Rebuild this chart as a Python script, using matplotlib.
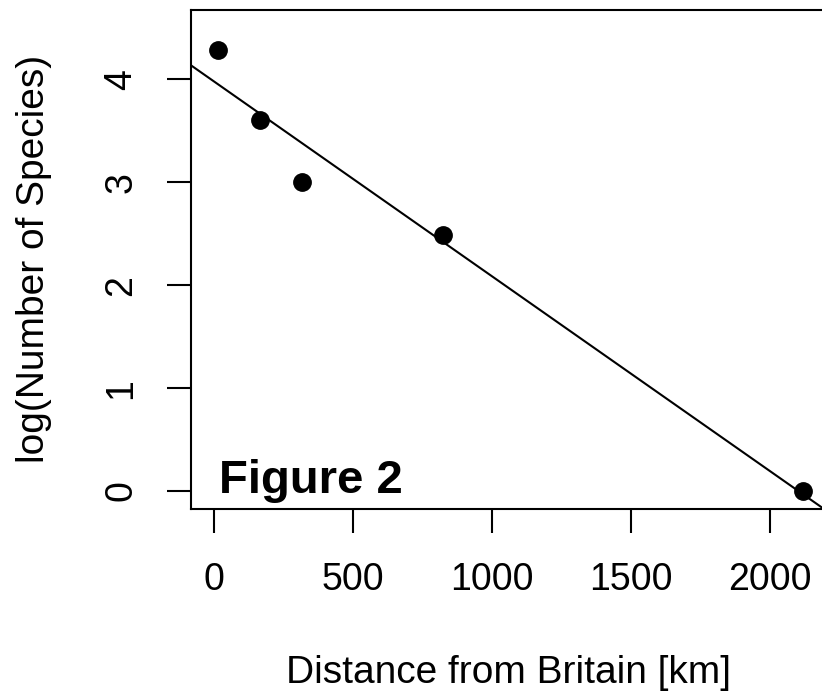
import numpy as np
import matplotlib
matplotlib.use("Agg")
from matplotlib import pyplot as plt

# Distance from Britain [km] and log(number of species)
distance = [12, 164, 317, 824, 2119]
log_species = [4.29, 3.61, 3.00, 2.49, 0.00]
x_ticks = [0, 500, 1000, 1500, 2000]
y_ticks = [0, 1, 2, 3, 4]

plt.rcParams['font.family'] = ['Liberation Sans', 'DejaVu Sans']

fig = plt.figure(figsize=(8.22, 6.93), dpi=100)
W, H = 822, 693

# axes box in pixels (right edge runs past the figure, as in the reference)
left, right, top, bottom = 190.7, 826.9, 9.5, 509.0
ax = fig.add_axes([left / W, 1 - bottom / H, (right - left) / W, (bottom - top) / H])

ax.plot(distance, log_species, 'o', color='black', markersize=12.5)

# least squares line
slope, intercept = np.polyfit(distance, log_species, 1)
xx = np.array([-200, 2400])
ax.plot(xx, intercept + slope * xx, color='black', linewidth=1.5)

ax.set_xlim(-85, 2205)
ax.set_ylim(-0.175, 4.68)
ax.set_xticks(x_ticks)
ax.set_yticks(y_ticks)
ax.set_xticklabels([str(v) for v in x_ticks])
ax.set_yticklabels([str(v) for v in y_ticks], rotation=90, va='center')

for s in ax.spines.values():
    s.set_linewidth(1.5)
ax.tick_params(axis='both', direction='out', length=17, width=1.5, labelsize=27)
ax.tick_params(axis='x', pad=21.5)
ax.tick_params(axis='y', pad=20)

ax.set_xlabel('Distance from Britain [km]', fontsize=28, va='baseline')
ax.xaxis.set_label_coords(0.5, (bottom - 683) / (bottom - top))
ax.set_ylabel('log(Number of Species)', fontsize=28, va='baseline')
ax.yaxis.set_label_coords((44 - left) / (right - left), 0.5)

fig.text(219 / W, 1 - 493 / H, 'Figure 2', fontsize=34, fontweight='bold',
         va='baseline', ha='left')

fig.savefig('out.png', dpi=100)
